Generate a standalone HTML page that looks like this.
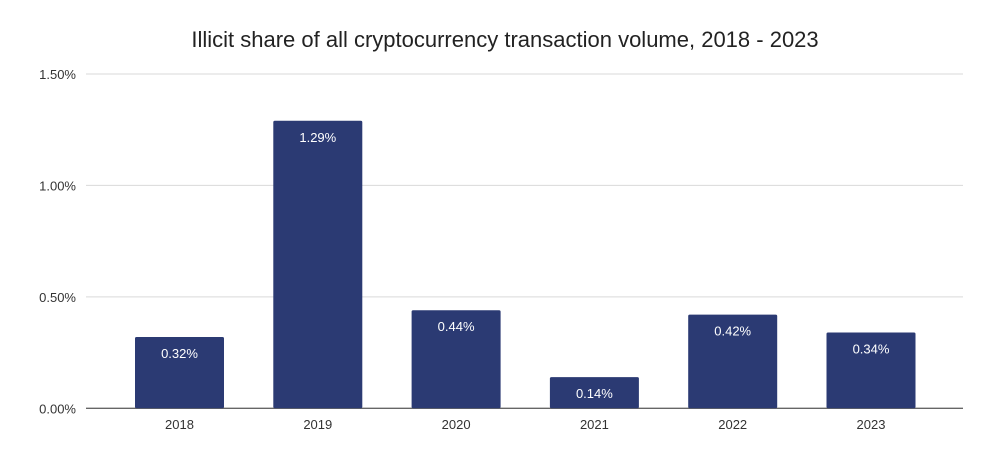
<!DOCTYPE html>
<html><head><meta charset="utf-8"><style>
body{margin:0;background:#fff;}
svg{display:block;font-family:"Liberation Sans",sans-serif;}
</style></head><body>
<svg width="990" height="457">
<text x="505" y="47" text-anchor="middle" font-size="22" fill="#222">Illicit share of all cryptocurrency transaction volume, 2018 - 2023</text>
<g id="grid"></g><g id="bars"></g><g id="xl"></g>
</svg>
<script>
const categories=["2018","2019","2020","2021","2022","2023"];
const values=[0.32,1.29,0.44,0.14,0.42,0.34];
const valueLabels=["0.32%","1.29%","0.44%","0.14%","0.42%","0.34%"];
const yTicks=[0,0.5,1.0,1.5];
const yTickLabels=["0.00%","0.50%","1.00%","1.50%"];
const NS="http://www.w3.org/2000/svg";
const y0=408.3,pxPer=222.9;
const y=v=>y0-v*pxPer;
const x=i=>179.5+i*138.3;
const bw=89;
function mk(t,a,p){const e=document.createElementNS(NS,t);for(const k in a)e.setAttribute(k,a[k]);p.appendChild(e);return e;}
const g=document.getElementById('grid'),b=document.getElementById('bars'),xl=document.getElementById('xl');
yTicks.forEach((v,i)=>{
 const l=mk('line',{x1:86,x2:963,y1:y(v),y2:y(v),stroke:v===0?'#666':'#d9d9d9','stroke-width':v===0?1.3:1},g);
 
 
 const t=mk('text',{x:76,y:y(v)+5,'text-anchor':'end','font-size':13,fill:'#333'},g);
 t.textContent=yTickLabels[i];
 
 
});
categories.forEach((c,i)=>{
 const r=mk('rect',{x:x(i)-bw/2,y:y(values[i]),width:bw,height:y0-y(values[i]),fill:'#2b3a73',rx:1.5},b);
 
 
 const t=mk('text',{x:x(i),y:y(values[i])+21,'text-anchor':'middle','font-size':13,fill:'#fff'},b);
 t.textContent=valueLabels[i];
 
 
 const k=mk('text',{x:x(i),y:429,'text-anchor':'middle','font-size':13,fill:'#333'},xl);
 k.textContent=c;
 
 
});
</script>
</body></html>
